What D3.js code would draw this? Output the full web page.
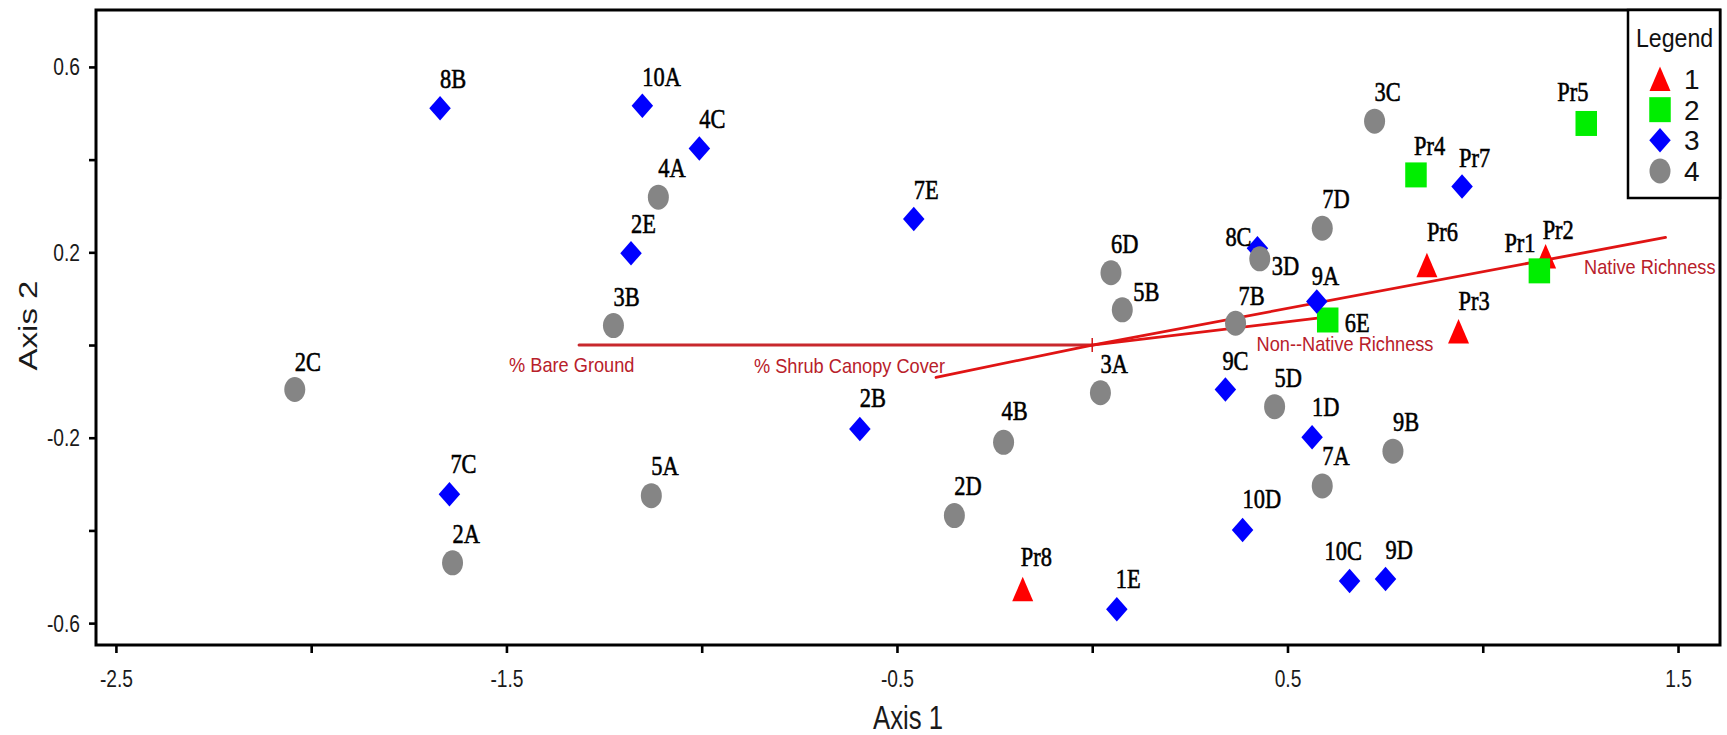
<!DOCTYPE html>
<html>
<head>
<meta charset="utf-8">
<script src="https://cdnjs.cloudflare.com/ajax/libs/d3/7.8.5/d3.min.js"></script>
<style>
  html, body { margin: 0; padding: 0; background: #fff; }
  svg { display: block; }
</style>
</head>
<body>
<script>
// Ordination scores (Axis 1, Axis 2) for each sampled plot, split by group
const group1Names = ["Pr2", "Pr3", "Pr6", "Pr8"];
const group1Axis1 = [1.161, 0.938, 0.857, -0.178];
const group1Axis2 = [0.191, 0.029, 0.172, -0.527];

const group2Names = ["Pr1", "Pr4", "Pr5", "6E"];
const group2Axis1 = [1.145, 0.829, 1.265, 0.603];
const group2Axis2 = [0.160, 0.367, 0.478, 0.054];

const group3Names = ["8B", "10A", "4C", "2E", "7E", "7C", "2B", "1E",
                     "8C", "9A", "Pr7", "9C", "1D", "10D", "10C", "9D"];
const group3Axis1 = [-1.670, -1.152, -1.006, -1.181, -0.457, -1.646, -0.595, 0.063,
                     0.423, 0.575, 0.947, 0.341, 0.563, 0.385, 0.659, 0.751];
const group3Axis2 = [0.511, 0.516, 0.424, 0.198, 0.272, -0.322, -0.181, -0.570,
                     0.209, 0.094, 0.342, -0.096, -0.199, -0.399, -0.509, -0.505];

const group4Names = ["2C", "2A", "4A", "3B", "5A", "6D", "5B", "3A", "4B",
                     "2D", "3C", "7D", "3D", "7B", "5D", "9B", "7A"];
const group4Axis1 = [-2.042, -1.638, -1.111, -1.226, -1.129, 0.048, 0.077, 0.021, -0.227,
                     -0.353, 0.723, 0.589, 0.429, 0.367, 0.467, 0.770, 0.589];
const group4Axis2 = [-0.096, -0.470, 0.319, 0.042, -0.325, 0.156, 0.076, -0.103, -0.210,
                     -0.368, 0.483, 0.252, 0.186, 0.047, -0.133, -0.229, -0.304];

// Environmental vectors (biplot arrows from the origin)
const vectorNames = ["% Bare Ground", "% Shrub Canopy Cover", "Non--Native Richness", "Native Richness"];
const vectorAxis1 = [-1.314, -0.400, 0.577, 1.468];
const vectorAxis2 = [0.000, -0.070, 0.058, 0.232];

// Axis ticks
const xTickValues = [-2.5, -2.0, -1.5, -1.0, -0.5, 0.0, 0.5, 1.0, 1.5];
const xTickLabels = ["-2.5", "", "-1.5", "", "-0.5", "", "0.5", "", "1.5"];
const yTickValues = [-0.6, -0.4, -0.2, 0.0, 0.2, 0.4, 0.6];
const yTickLabels = ["-0.6", "", "-0.2", "", "0.2", "", "0.6"];

const legendGroups = ["1", "2", "3", "4"];

// ---------------------------------------------------------------------------

const W = 1727, H = 735;
const frame = { left: 96, right: 1720, top: 10, bottom: 645 };
const SANS = "'Liberation Sans', Arial, Helvetica, sans-serif";
const SERIF = "'Liberation Serif', 'Times New Roman', Times, serif";

const svg = d3.select("body").append("svg").attr("width", W).attr("height", H);

const x = d3.scaleLinear().domain([-2.551, 1.6075]).range([frame.left, frame.right]);
const y = d3.scaleLinear().domain([-0.6472, 0.7228]).range([frame.bottom, frame.top]);

const groups = [
  { key: "1", names: group1Names, a1: group1Axis1, a2: group1Axis2 },
  { key: "2", names: group2Names, a1: group2Axis1, a2: group2Axis2 },
  { key: "3", names: group3Names, a1: group3Axis1, a2: group3Axis2 },
  { key: "4", names: group4Names, a1: group4Axis1, a2: group4Axis2 }
];
const points = [];
groups.forEach(g => g.names.forEach((n, i) =>
  points.push({ name: n, group: g.key, ax1: g.a1[i], ax2: g.a2[i] })));

const vectors = vectorNames.map((n, i) => ({ name: n, ax1: vectorAxis1[i], ax2: vectorAxis2[i] }));

// marker look per group
const markerStyle = {
  "1": { shape: "triangle", fill: "#ff0000" },
  "2": { shape: "square",   fill: "#00ee00" },
  "3": { shape: "diamond",  fill: "#0000ff" },
  "4": { shape: "circle",   fill: "#858585" }
};
const markerPaths = {
  triangle: "M0,-12.5L10.5,12L-10.5,12Z",
  square:   "M-10.75,-12.5H10.75V12.5H-10.75Z",
  diamond:  "M0,-12.25L10.75,0L0,12.25L-10.75,0Z"
};
function drawMarker(sel, shape, fill) {
  if (shape === "circle") {
    sel.append("ellipse").attr("rx", 10.5).attr("ry", 12.5).attr("fill", fill);
  } else {
    sel.append("path").attr("d", markerPaths[shape]).attr("fill", fill);
  }
}

// ----- vectors (drawn below the points) -----
const vecLayer = svg.append("g");
vectors.forEach(v => {
  const bare = v.name === "% Bare Ground";
  vecLayer.append("line")
    .attr("x1", x(0)).attr("y1", y(0))
    .attr("x2", x(v.ax1)).attr("y2", y(v.ax2))
    .attr("stroke", bare ? "#c8282d" : "#e01414")
    .attr("stroke-width", bare ? 3 : 2.8)
    .attr("stroke-linecap", "round");
});
vecLayer.append("line")
  .attr("x1", x(0)).attr("x2", x(0))
  .attr("y1", y(0) - 7).attr("y2", y(0) + 7)
  .attr("stroke", "#d01818").attr("stroke-width", 1.5);

// label placement for each vector, relative to its tip
const vecLabelPos = {
  "% Bare Ground":        { dx: -70, dy: 27, anchor: "start" },
  "% Shrub Canopy Cover": { dx: 9,   dy: -4, anchor: "end" },
  "Non--Native Richness": { dx: -61, dy: 33, anchor: "start" },
  "Native Richness":      { dx: 50,  dy: 37, anchor: "end" }
};
vectors.forEach(v => {
  const p = vecLabelPos[v.name];
  vecLayer.append("text")
    .attr("transform", `translate(${x(v.ax1) + p.dx},${y(v.ax2) + p.dy}) scale(0.91,1)`)
    .attr("text-anchor", p.anchor)
    .attr("font-family", SANS).attr("font-size", 20)
    .attr("fill", "#b8202a")
    .text(v.name);
});

// ----- points -----
const ptLayer = svg.append("g");
points.forEach(d => {
  const g = ptLayer.append("g").attr("transform", `translate(${x(d.ax1)},${y(d.ax2)})`);
  const st = markerStyle[d.group];
  drawMarker(g, st.shape, st.fill);
});

// label nudges (relative to marker centre) where the default spot is crowded
const labelNudge = {
  "3D": [12, 16], "8C": [-32, -2], "9A": [-5, -16], "6E": [17, 12], "7B": [3, -18],
  "Pr6": [0, -24], "Pr1": [-35, -19], "Pr2": [-3, -17], "Pr3": [0, -22], "Pr4": [-2, -20],
  "Pr7": [-3, -20], "Pr5": [-29, -22], "5B": [11, -9], "10C": [-25, -21], "9C": [-3, -20],
  "Pr8": [-2, -23], "2B": [0, -22], "4B": [-2, -22], "10D": [0, -22], "1D": [0, -21],
  "7A": [0, -21], "5A": [0, -21], "2D": [0, -21], "1E": [-1, -21], "2C": [0, -19], "7C": [1, -21]
};
points.forEach(d => {
  const n = labelNudge[d.name] || [0, -20];
  ptLayer.append("text")
    .attr("transform", `translate(${x(d.ax1) + n[0]},${y(d.ax2) + n[1]}) scale(0.8,1)`)
    .attr("font-family", SERIF).attr("font-size", 28)
    .attr("fill", "#000").attr("stroke", "#000").attr("stroke-width", 0.6)
    .text(d.name);
});

// ----- axes -----
const xAxis = d3.axisBottom(x).tickValues(xTickValues).tickSize(8)
  .tickFormat((d, i) => xTickLabels[i]);
const yAxis = d3.axisLeft(y).tickValues(yTickValues).tickSize(7)
  .tickFormat((d, i) => yTickLabels[i]);

const gx = svg.append("g").attr("transform", `translate(0,${frame.bottom})`).call(xAxis);
const gy = svg.append("g").attr("transform", `translate(${frame.left},0)`).call(yAxis);
[gx, gy].forEach(g => {
  g.select(".domain").remove();
  g.selectAll(".tick line").attr("stroke", "#000").attr("stroke-width", 2.6);
  g.selectAll(".tick text").attr("font-family", SANS).attr("font-size", 24).attr("fill", "#1a1a1a");
});
gx.selectAll(".tick text").attr("y", null).attr("dy", null)
  .attr("transform", "translate(0,42) scale(0.8,1)");
gy.selectAll(".tick text").attr("x", null).attr("dy", null)
  .attr("transform", "translate(-16,8) scale(0.8,1)");

// plot frame
svg.append("rect")
  .attr("x", frame.left).attr("y", frame.top)
  .attr("width", frame.right - frame.left).attr("height", frame.bottom - frame.top)
  .attr("fill", "none").attr("stroke", "#000").attr("stroke-width", 3);

// axis titles
svg.append("text")
  .attr("transform", `translate(${(frame.left + frame.right) / 2},729) scale(0.78,1)`)
  .attr("text-anchor", "middle")
  .attr("font-family", SANS).attr("font-size", 33).attr("fill", "#1a1a1a")
  .text("Axis 1");
svg.append("text")
  .attr("transform", `translate(37,${(frame.top + frame.bottom) / 2 - 2}) scale(0.8,1) rotate(-90)`)
  .attr("text-anchor", "middle")
  .attr("font-family", SANS).attr("font-size", 33).attr("fill", "#1a1a1a")
  .text("Axis 2");

// ----- legend -----
const leg = svg.append("g");
leg.append("rect")
  .attr("x", 1628).attr("y", frame.top).attr("width", frame.right - 1628).attr("height", 188)
  .attr("fill", "#fff").attr("stroke", "#000").attr("stroke-width", 2.5);
leg.append("text")
  .attr("transform", "translate(1636,47) scale(0.89,1)")
  .attr("font-family", SANS).attr("font-size", 26).attr("fill", "#111")
  .text("Legend");
const legY = d3.scalePoint().domain(legendGroups).range([79, 171]);
legendGroups.forEach(k => {
  const g = leg.append("g").attr("transform", `translate(1660,${legY(k)})`);
  drawMarker(g, markerStyle[k].shape, markerStyle[k].fill);
  leg.append("text")
    .attr("x", 1684).attr("y", legY(k) + 10)
    .attr("font-family", SANS).attr("font-size", 28).attr("fill", "#111")
    .text(k);
});
</script>
</body>
</html>
